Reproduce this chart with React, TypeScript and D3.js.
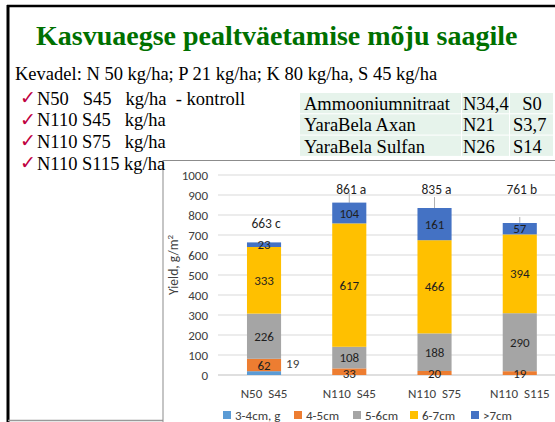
import React from "react";
import * as d3 from "d3";

const categories = ["N50  S45", "N110  S45", "N110  S75", "N110  S115"];
const seriesNames = ["3-4cm, g", "4-5cm", "5-6cm", "6-7cm", ">7cm"];
const s34 = [19, 0, 0, 0];
const s45 = [62, 33, 20, 19];
const s56 = [226, 108, 188, 290];
const s67 = [333, 617, 466, 394];
const s7 = [23, 104, 161, 57];
const totals = [663, 861, 835, 761];
const letters = ["c", "a", "a", "b"];
const errTop = [663, 910, 890, 790];
const yTicks = [0, 100, 200, 300, 400, 500, 600, 700, 800, 900, 1000];
const colors = ["#5B9BD5", "#ED7D31", "#A5A5A5", "#FFC000", "#4472C4"];

const listItems = ["N50   S45   kg/ha  - kontroll", "N110 S45   kg/ha", "N110 S75   kg/ha", "N110 S115 kg/ha"];
const tableRows = [
  ["Ammooniumnitraat", "N34,4", "  S0"],
  ["YaraBela Axan", "N21", "S3,7"],
  ["YaraBela Sulfan", "N26", "S14"],
];

const serif = "'Liberation Serif', 'Times New Roman', serif";
const sans = "Carlito, Lato, 'Liberation Sans', sans-serif";

export default function App() {
  const W = 555, H = 422;
  const x = d3.scaleBand<string>().domain(categories).range([221.4, 562.4]).paddingInner(0.6).paddingOuter(0.3);
  const y = d3.scaleLinear().domain([0, 1000]).range([375, 175]);
  const rows = categories.map((c, i) => ({ cat: c, s0: s34[i], s1: s45[i], s2: s56[i], s3: s67[i], s4: s7[i] }));
  const keys = ["s0", "s1", "s2", "s3", "s4"];
  const stack = d3.stack<any>().keys(keys)(rows);
  const bw = x.bandwidth();
  const labelLevel = [760, 930, 930, 930];
  const legendX = [227, 298, 357, 414, 475];

  return (
    <svg width={W} height={H} style={{ position: "absolute", left: 0, top: 0, background: "#fff" }}>
      <rect x={0} y={0} width={W} height={H} fill="#fff" />
      {/* slide frame */}
      <line x1={7} x2={W} y1={6} y2={6} stroke="#000" strokeWidth={2.5} />
      <line x1={8} x2={8} y1={5} y2={H} stroke="#000" strokeWidth={3} />
      <line x1={8} x2={W} y1={420.5} y2={420.5} stroke="#999" strokeWidth={1.5} />

      <text x={36} y={45} fontFamily={serif} fontWeight="bold" fontSize={28} fill="#007000">
        Kasvuaegse pealtväetamise mõju saagile
      </text>
      <text x={15} y={80} fontFamily={serif} fontSize={18.5} fill="#000">
        Kevadel: N 50 kg/ha; P 21 kg/ha; K 80 kg/ha, S 45 kg/ha
      </text>

      {/* table */}
      {tableRows.map((r, i) => (
        <g key={i}>
          <rect x={300} y={93 + i * 21.3} width={161} height={20.3} fill="#E6F3EB" />
          <rect x={462} y={93 + i * 21.3} width={47} height={20.3} fill="#E6F3EB" />
          <rect x={510} y={93 + i * 21.3} width={43} height={20.3} fill="#E6F3EB" />
          <text x={304} y={110 + i * 21.3} fontFamily={serif} fontSize={18.5} fill="#000" style={{ whiteSpace: "pre" }}>{r[0]}</text>
          <text x={463} y={110 + i * 21.3} fontFamily={serif} fontSize={18.5} fill="#000" style={{ whiteSpace: "pre" }}>{r[1]}</text>
          <text x={513} y={110 + i * 21.3} fontFamily={serif} fontSize={18.5} fill="#000" style={{ whiteSpace: "pre" }}>{r[2]}</text>
        </g>
      ))}

      {/* chart box */}
      <rect x={163} y={160.5} width={W} height={H} fill="#fff" stroke="#8c8c8c" strokeWidth={1} />

      {/* list (drawn over the box edge) */}
      {listItems.map((t, i) => (
        <g key={i}>
          <text x={20} y={104 + i * 21.7} fontFamily="'DejaVu Sans', sans-serif" fontSize={19} fill="#C00040">✓</text>
          <text x={37} y={104.5 + i * 21.7} fontFamily={serif} fontSize={18.5} fill="#000" style={{ whiteSpace: "pre" }}>{t}</text>
        </g>
      ))}

      {/* grid */}
      {yTicks.map((t) => (
        <g key={t}>
          <line x1={218} x2={W} y1={y(t)} y2={y(t)} stroke={t === 0 ? "#bfbfbf" : "#d9d9d9"} strokeWidth={1} />
          <text x={208} y={y(t)} dy="0.35em" textAnchor="end" fontFamily={sans} fontSize={13} fill="#404040">{t}</text>
        </g>
      ))}

      <text transform={`translate(178,265) rotate(-90)`} textAnchor="middle" fontFamily={sans} fontSize={13.5} fill="#404040">
        Yield, g/m<tspan dy={-5} fontSize={9}>2</tspan>
      </text>

      {/* error bars */}
      {categories.map((c, i) => (
        <line key={c} x1={x(c)! + bw / 2} x2={x(c)! + bw / 2} y1={y(errTop[i])} y2={y(totals[i])} stroke="#b0b0b0" strokeWidth={1} />
      ))}

      {/* bars */}
      {stack.map((layer, si) => (
        <g key={si} fill={colors[si]}>
          {layer.map((d, i) => (
            <rect key={i} x={x(categories[i])} width={bw} y={y(d[1])} height={Math.max(0, y(d[0]) - y(d[1]))} />
          ))}
        </g>
      ))}

      {/* segment labels */}
      {stack.map((layer, si) =>
        layer.map((d, i) => {
          const v = d[1] - d[0];
          if (v <= 0) return null;
          const cx = x(categories[i])! + bw / 2;
          let cy = y((d[0] + d[1]) / 2);
          if (si === 0) {
            return (
              <text key={`${si}-${i}`} x={cx + bw / 2 + 5} y={cy - 10} dy="0.35em" fontFamily={sans} fontSize={13} fill="#404040">{v}</text>
            );
          }
          if (si === 1 && v < 40) cy = y(d[0]) - 1.5;
          return (
            <text key={`${si}-${i}`} x={cx} y={cy} dy="0.35em" textAnchor="middle" fontFamily={sans} fontSize={13} fill="#1f1f1f">{v}</text>
          );
        })
      )}

      {/* totals */}
      {categories.map((c, i) => (
        <text key={c} x={x(c)! + bw / 2 + 2} y={y(labelLevel[i])} dy="0.35em" textAnchor="middle" fontFamily={sans} fontSize={13.5} fill="#1f1f1f" style={{ whiteSpace: "pre" }}>
          {`${totals[i]} ${letters[i]}`}
        </text>
      ))}

      {/* x labels */}
      {categories.map((c) => (
        <text key={c} x={x(c)! + bw / 2} y={393} dy="0.35em" textAnchor="middle" fontFamily={sans} fontSize={13} fill="#404040" style={{ whiteSpace: "pre" }}>{c}</text>
      ))}

      {/* legend */}
      {seriesNames.map((n, i) => (
        <g key={n}>
          <rect x={legendX[i] - 4} y={411} width={8} height={8} fill={colors[i]} />
          <text x={legendX[i] + 8} y={415} dy="0.35em" fontFamily={sans} fontSize={13} fill="#404040">{n}</text>
        </g>
      ))}
    </svg>
  );
}
